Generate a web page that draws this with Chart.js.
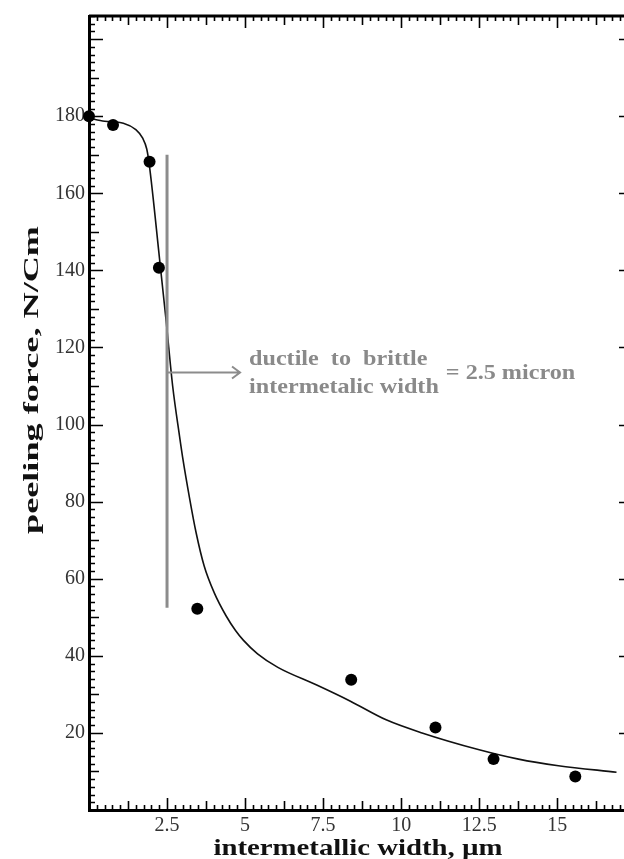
<!DOCTYPE html>
<html>
<head>
<meta charset="utf-8">
<script src="https://cdn.jsdelivr.net/npm/chart.js@4.4.1/dist/chart.umd.min.js"></script>
<style>
    html, body { margin: 0; padding: 0; background: #fff; overflow: hidden; }
    #wrap { width: 640px; height: 859px; }
</style>
</head>
<body>
<div id="wrap"><canvas id="myChart" width="640" height="859"></canvas></div>
<script>
// Measured peeling force (N/Cm) for each intermetallic width (µm)
const widths = [0, 0.77, 1.94, 2.24, 3.47, 8.4, 11.1, 12.96, 15.58];
const forces = [180, 177.7, 168.2, 140.7, 52.2, 33.8, 21.4, 13.2, 8.7];

// Fitted trend through the measurements
const fitWidths = [0, 0.5, 1.1, 1.5, 1.72, 1.85, 1.93, 2.26, 2.47, 2.68, 2.9, 3.0, 3.22, 3.43, 3.69, 4.01, 4.39, 4.7, 4.95, 5.4, 6.05, 7.33, 8.36, 9.52, 10.67, 12.47, 13.76, 15.04, 16.9];
const fitForces = [179.5, 178.7, 178.2, 176.5, 174.3, 171.5, 167.5, 143, 127, 110, 97, 91.5, 81, 72, 63.3, 56.4, 50.4, 46.5, 44, 40.5, 37, 32.3, 28.3, 23.4, 20, 15.7, 13.2, 11.5, 9.8];

const xTickValues = [2.5, 5, 7.5, 10, 12.5, 15];
const yTickValues = [20, 40, 60, 80, 100, 120, 140, 160, 180];

const xTitle = 'intermetallic width, µm';
const yTitle = 'peeling force, N/Cm';

// ductile -> brittle transition marker
const transitionWidth = 2.5;
const transitionForces = [52.5, 170];
const arrowForce = 113.5;

const serif = "'Liberation Serif', 'Times New Roman', serif";

// text drawn wider than the font's natural width
function stretchText(c, text, x, y, sx) {
    c.save();
    c.translate(x, y);
    c.scale(sx, 1);
    c.fillText(text, 0, 0);
    c.restore();
}

// inward tick marks on all four sides, plus the top frame line
const frameTicks = {
    id: 'frameTicks',
    beforeDatasetsDraw(chart) {
        const { ctx, chartArea: a, scales: { x, y } } = chart;
        ctx.save();
        ctx.strokeStyle = '#000';
        ctx.lineWidth = 1.6;
        ctx.beginPath();
        for (let i = 0; i * 0.25 <= x.max; i++) {
            const px = Math.round(x.getPixelForValue(i * 0.25)) + 0.5;
            const len = i % 10 === 0 ? 12 : (i % 5 === 0 ? 9 : 5);
            ctx.moveTo(px, a.bottom); ctx.lineTo(px, a.bottom - len);
            ctx.moveTo(px, a.top); ctx.lineTo(px, a.top + len);
        }
        for (let v = 0; v <= y.max; v += 2) {
            const py = Math.round(y.getPixelForValue(v)) + 0.5;
            const len = v % 20 === 0 ? 14 : (v % 10 === 0 ? 10 : 6);
            ctx.moveTo(a.left, py); ctx.lineTo(a.left + len, py);
            if (v % 10 === 0) {
                ctx.moveTo(a.right, py); ctx.lineTo(a.right - (v % 20 === 0 ? 10 : 5), py);
            }
        }
        ctx.stroke();
        ctx.lineWidth = 3;
        ctx.beginPath();
        ctx.moveTo(a.left, a.top); ctx.lineTo(a.right, a.top);
        ctx.moveTo(a.right, a.top); ctx.lineTo(a.right, a.bottom);
        ctx.stroke();
        ctx.restore();
    }
};

// transition line, arrow and its note
const transitionNote = {
    id: 'transitionNote',
    afterDatasetsDraw(chart) {
        const { ctx, scales: { x, y } } = chart;
        const lx = x.getPixelForValue(transitionWidth);
        const ay = y.getPixelForValue(arrowForce);
        const tip = lx + 73;
        ctx.save();
        ctx.strokeStyle = '#8c8c8c';
        ctx.lineWidth = 3;
        ctx.beginPath();
        ctx.moveTo(lx, y.getPixelForValue(transitionForces[0]));
        ctx.lineTo(lx, y.getPixelForValue(transitionForces[1]));
        ctx.stroke();

        ctx.lineWidth = 2;
        ctx.beginPath();
        ctx.moveTo(lx, ay); ctx.lineTo(tip, ay);
        ctx.moveTo(tip - 8, ay - 6); ctx.lineTo(tip, ay); ctx.lineTo(tip - 8, ay + 6);
        ctx.stroke();

        ctx.fillStyle = '#8a8a8a';
        ctx.font = 'bold 21px ' + serif;
        ctx.textBaseline = 'middle';
        const sx = 1.15;
        const tx = tip + 9;
        const line1 = 'ductile  to  brittle';
        const line2 = 'intermetalic width';
        stretchText(ctx, line1, tx, ay - 13, sx);
        stretchText(ctx, line2, tx, ay + 15, sx);
        const w = Math.max(ctx.measureText(line1).width, ctx.measureText(line2).width) * sx;
        stretchText(ctx, '= ' + transitionWidth + ' micron', tx + w + 7, ay + 1, sx);
        ctx.restore();
    }
};

// axis titles, drawn stretched along their length
const axisTitles = {
    id: 'axisTitles',
    afterDraw(chart) {
        const { ctx, chartArea: a } = chart;
        ctx.save();
        ctx.fillStyle = '#111';
        ctx.textAlign = 'center';
        ctx.textBaseline = 'alphabetic';
        ctx.font = 'bold 24px ' + serif;
        stretchText(ctx, xTitle, (a.left + a.right) / 2 - 1, 855, 289 / ctx.measureText(xTitle).width);

        ctx.font = 'bold 22px ' + serif;
        const sy = 308 / ctx.measureText(yTitle).width;
        ctx.translate(38, 380);
        ctx.rotate(-Math.PI / 2);
        stretchText(ctx, yTitle, 0, 0, sy);
        ctx.restore();
    }
};

const ctx = document.getElementById('myChart').getContext('2d');
const myChart = new Chart(ctx, {
    type: 'scatter',
    data: {
        datasets: [{
            label: 'measured',
            data: widths.map((w, i) => ({ x: w, y: forces[i] })),
            pointRadius: 6,
            pointBackgroundColor: '#000',
            pointBorderWidth: 0,
            clip: false,
            order: 0
        }, {
            type: 'line',
            label: 'fit',
            data: fitWidths.map((w, i) => ({ x: w, y: fitForces[i] })),
            borderColor: '#111',
            borderWidth: 1.6,
            pointRadius: 0,
            cubicInterpolationMode: 'monotone',
            fill: false,
            order: 1
        }]
    },
    options: {
        responsive: false,
        animation: false,
        layout: { padding: { top: 12, right: 11, left: 0, bottom: 0 } },
        plugins: { legend: { display: false }, tooltip: { enabled: false } },
        scales: {
            x: {
                type: 'linear',
                min: 0,
                max: 17.3,
                grid: { display: false, drawTicks: false },
                border: { display: true, color: '#000', width: 3 },
                afterBuildTicks: (scale) => { scale.ticks = xTickValues.map(v => ({ value: v })); },
                afterFit: (scale) => { scale.height = 49; },
                ticks: {
                    color: '#333',
                    padding: 4,
                    maxRotation: 0,
                    font: { family: serif, size: 20 }
                },
                title: { display: false }
            },
            y: {
                min: 0,
                max: 206,
                grid: { display: false, drawTicks: false },
                border: { display: true, color: '#000', width: 3 },
                afterBuildTicks: (scale) => { scale.ticks = yTickValues.map(v => ({ value: v })); },
                afterFit: (scale) => { scale.width = 89; },
                ticks: {
                    color: '#333',
                    padding: 4,
                    font: { family: serif, size: 20 }
                },
                title: { display: false }
            }
        }
    },
    plugins: [frameTicks, transitionNote, axisTitles]
});
</script>
</body>
</html>
